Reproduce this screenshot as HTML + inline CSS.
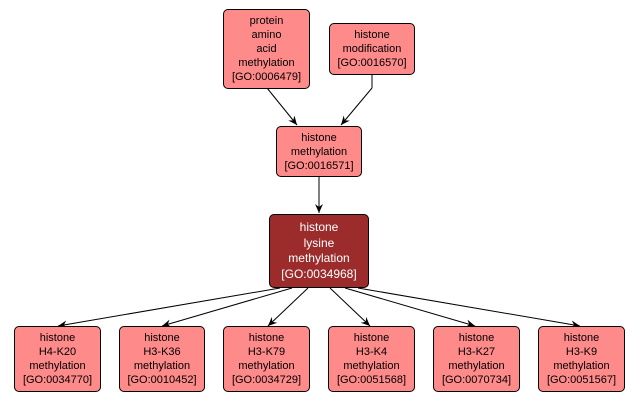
<!DOCTYPE html>
<html><head><style>
body{margin:0;background:#fff;width:640px;height:402px;position:relative;overflow:hidden;font-family:"Liberation Sans",sans-serif}
.n{position:absolute;box-sizing:border-box;background:#ff8a8a;border:1px solid #000;border-radius:5px;display:flex;align-items:center;justify-content:center;text-align:center;font-size:11px;line-height:14px;color:#000}
.m{background:#9c2c2c;color:#fff;font-size:12px;line-height:15.5px}
svg{position:absolute;left:0;top:0}
</style></head><body>
<svg width="640" height="402">
<defs><marker id="a" markerWidth="10" markerHeight="10" refX="9" refY="5" orient="auto" markerUnits="userSpaceOnUse"><path d="M0,1 L9,5 L0,9 L3,5 z" fill="#000"/></marker></defs>
<g stroke="#000" stroke-width="1" fill="none">
<line x1="372" y1="74" x2="372" y2="88"/>
</g>
<g stroke="#000" stroke-width="1" fill="none" marker-end="url(#a)">
<line x1="267" y1="88" x2="297" y2="125"/>
<line x1="372" y1="88" x2="341" y2="125"/>
<line x1="319" y1="176" x2="319" y2="213"/>
<line x1="280" y1="288" x2="58" y2="326"/>
<line x1="292" y1="288" x2="162" y2="326"/>
<line x1="308" y1="288" x2="268" y2="326"/>
<line x1="330" y1="288" x2="370" y2="326"/>
<line x1="345" y1="288" x2="475" y2="326"/>
<line x1="358" y1="288" x2="580" y2="326"/>
</g>
</svg>
<div class="n" style="left:223px;top:9px;width:87px;height:80px">protein<br>amino<br>acid<br>methylation<br>[GO:0006479]</div>
<div class="n" style="left:329px;top:23px;width:86px;height:52px">histone<br>modification<br>[GO:0016570]</div>
<div class="n" style="left:276px;top:126px;width:86px;height:51px">histone<br>methylation<br>[GO:0016571]</div>
<div class="n m" style="left:269px;top:214px;width:100px;height:74px">histone<br>lysine<br>methylation<br>[GO:0034968]</div>
<div class="n" style="left:14px;top:326px;width:87px;height:66px">histone<br>H4-K20<br>methylation<br>[GO:0034770]</div>
<div class="n" style="left:119px;top:326px;width:86px;height:66px">histone<br>H3-K36<br>methylation<br>[GO:0010452]</div>
<div class="n" style="left:223px;top:326px;width:87px;height:66px">histone<br>H3-K79<br>methylation<br>[GO:0034729]</div>
<div class="n" style="left:328px;top:326px;width:87px;height:66px">histone<br>H3-K4<br>methylation<br>[GO:0051568]</div>
<div class="n" style="left:433px;top:326px;width:87px;height:66px">histone<br>H3-K27<br>methylation<br>[GO:0070734]</div>
<div class="n" style="left:538px;top:326px;width:87px;height:66px">histone<br>H3-K9<br>methylation<br>[GO:0051567]</div>
</body></html>
